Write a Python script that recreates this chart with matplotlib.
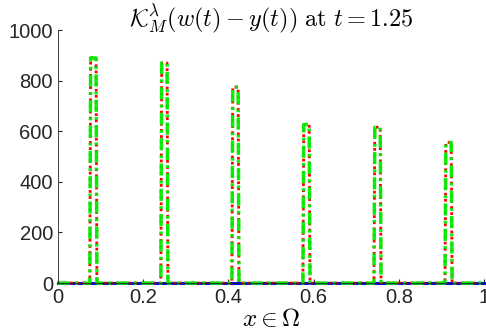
import numpy as np
import matplotlib
matplotlib.use("Agg")
import matplotlib.pyplot as plt

plt.rcParams['mathtext.fontset'] = 'cm'
plt.rcParams['font.family'] = ['Liberation Sans', 'DejaVu Sans']

# pulse data
centers = [1/12, 3/12, 5/12, 7/12, 9/12, 11/12]
heights = [890, 870, 775, 627, 616, 556]
half_width = 1/120

# build step profile
xs = [0.0]
ys = [0.0]
for c, h in zip(centers, heights):
    xs += [c - half_width, c - half_width + 0.002, c + half_width - 0.002, c + half_width]
    ys += [0.0, h, h, 0.0]
xs.append(1.0)
ys.append(0.0)
xs = np.array(xs)
ys = np.array(ys)

fig = plt.figure(figsize=(4.86, 3.35), dpi=100)
ax = fig.add_axes([0.119, 0.155, 0.877, 0.755])

ax.plot([0, 1], [0, 0], color='blue', lw=2.2, clip_on=False)
ax.plot(xs, ys, color='red', lw=2.0, ls=(0, (1, 1.2)), clip_on=False)
ax.plot(xs, ys, color='#00ee00', lw=2.5, ls=(0, (3.5, 1.5, 0.8, 1.5)), alpha=0.95, clip_on=False)

ax.set_xlim(0, 1)
ax.set_ylim(0, 1000)
ax.set_xticks([0, 0.2, 0.4, 0.6, 0.8, 1])
ax.set_xticklabels(['0', '0.2', '0.4', '0.6', '0.8', '1'])
ax.set_yticks([0, 200, 400, 600, 800, 1000])
ax.tick_params(direction='in', labelsize=14.5, length=3, color='#262626', labelcolor='#262626')
for s in ['top', 'right']:
    ax.spines[s].set_visible(False)
for s in ['left', 'bottom']:
    ax.spines[s].set_color('#262626')
    ax.spines[s].set_linewidth(0.6)

fig.text(0.558, 0.99, r'$\mathcal{K}^{\lambda}_{M}(w(t)-y(t))\ \mathrm{at}\ t=1.25$',
         fontsize=17.5, ha='center', va='top')
ax.set_xlabel(r'$x\in\Omega$', fontsize=18, labelpad=0)

fig.savefig('out.png', dpi=100)
